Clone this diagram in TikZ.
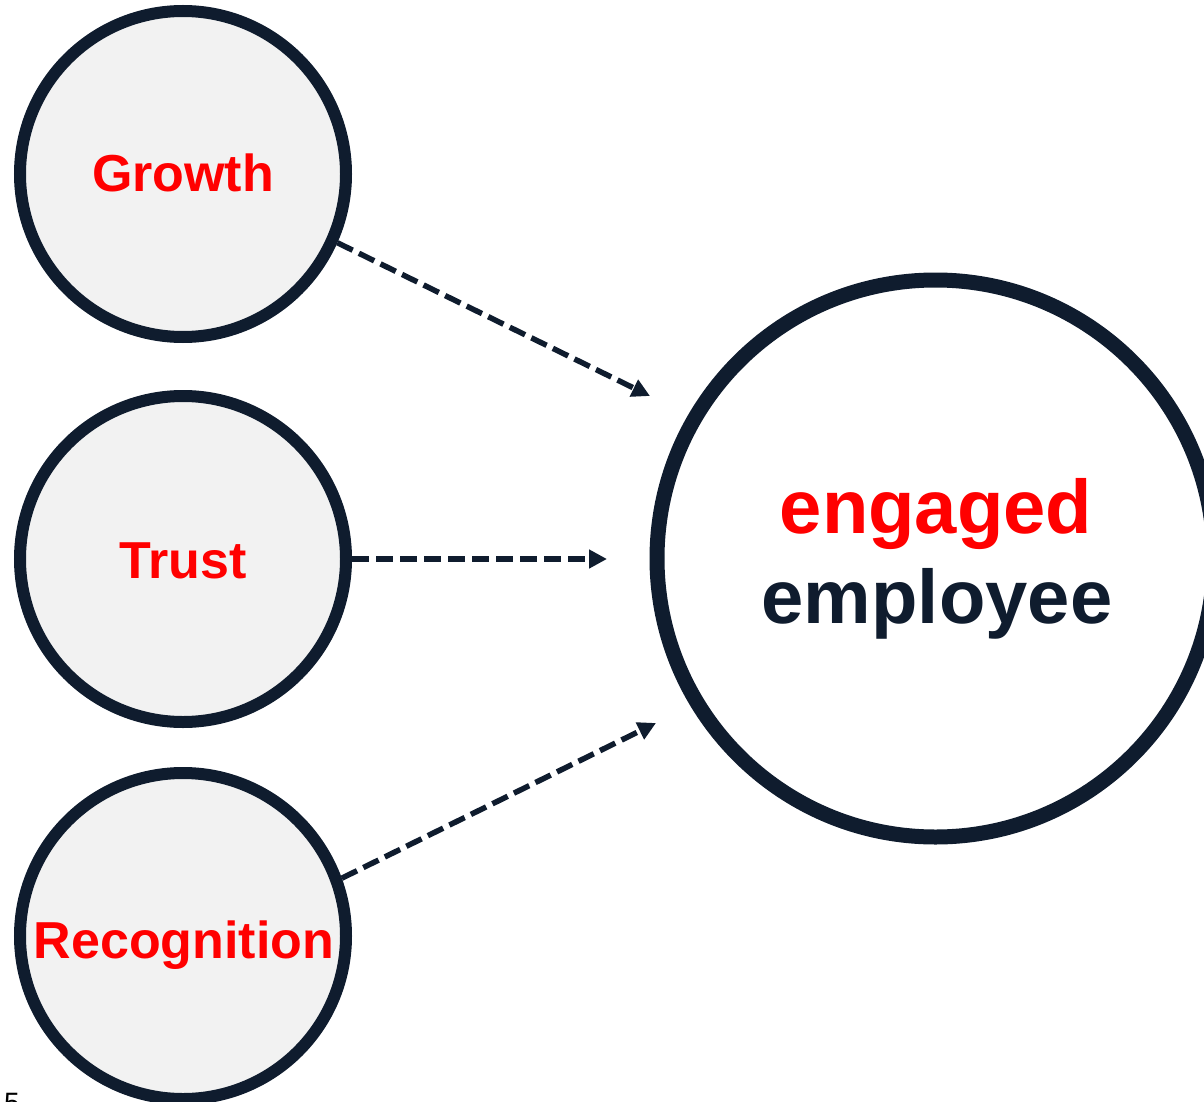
\documentclass[tikz,border=0pt]{standalone}
\usepackage{fontspec}
\setmainfont{Liberation Sans}
\usetikzlibrary{arrows.meta}
\definecolor{navy}{HTML}{0F1C2E}
\definecolor{hotred}{HTML}{FF0000}
\definecolor{pale}{HTML}{F2F2F2}
\begin{document}
\begin{tikzpicture}[x=1pt,y=-1pt,
  driver/.style={circle,draw=navy,fill=pale,line width=12pt,minimum size=326pt,inner sep=0pt},
  goal/.style={circle,draw=navy,fill=white,line width=15pt,minimum size=557pt,inner sep=0pt},
  label/.style={text=hotred,font=\bfseries\fontsize{52}{60}\selectfont,inner sep=0pt,anchor=base},
  bigword/.style={font=\bfseries\fontsize{76}{90}\selectfont,inner sep=0pt,anchor=base},
  link/.style={draw=navy,line width=5.5pt,dash pattern=on 17pt off 7pt,
    -{Triangle[length=18pt,width=18pt]}}]
\useasboundingbox (0,0) rectangle (1204,1102);
\clip (0,0) rectangle (1204,1102);

% influencing factors
\node[driver] (g) at (183,174) {};
\node[driver] (t) at (183,559) {};
\node[driver] (r) at (183,936) {};
\node[label] (gl) at (183,192) {Growth};
\node[label] (tl) at (183,578) {Trust};
\node[label] (rl) at (184,958) {Recognition};

% outcome
\node[goal] (e) at (935.5,558.5) {};
\node[bigword,text=hotred] (e1) at (936,533) {engaged};
\node[bigword,text=navy] (e2) at (937,623) {employee};

% arrow ends in front of the outcome circle
\coordinate (ga) at (650,396);
\coordinate (ta) at (607,559);
\coordinate (ra) at (656,723);
\draw[link] (g.-24) -- (ga);
\draw[link] (t.east) -- (ta);
\draw[link] (r.20) -- (ra);

% page number, running off the lower edge
\node[font=\fontsize{28}{32}\selectfont,inner sep=0pt,anchor=base west] (pg) at (4,1112) {5};
\end{tikzpicture}
\end{document}
